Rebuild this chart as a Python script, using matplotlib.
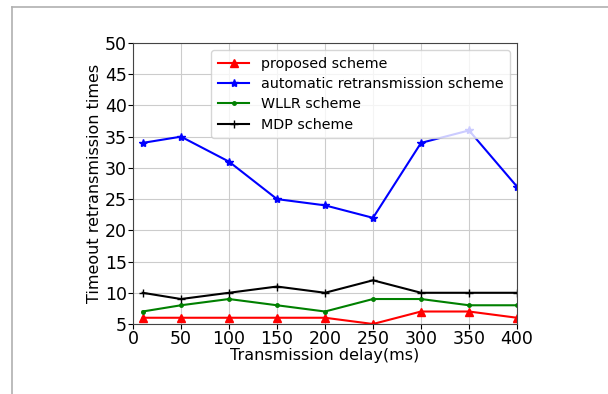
import matplotlib
matplotlib.use("Agg")
import matplotlib.pyplot as plt
from matplotlib.lines import Line2D

# Timeout retransmissions vs. transmission delay for four schemes
delay = [10, 50, 100, 150, 200, 250, 300, 350, 400]
proposed = [6, 6, 6, 6, 6, 5, 7, 7, 6]
auto_retx = [34, 35, 31, 25, 24, 22, 34, 36, 27]
wllr = [7, 8, 9, 8, 7, 9, 9, 8, 8]
mdp = [10, 9, 10, 11, 10, 12, 10, 10, 10]

xticks = [0, 50, 100, 150, 200, 250, 300, 350, 400]
yticks = [5, 10, 15, 20, 25, 30, 35, 40, 45, 50]

fig = plt.figure(figsize=(6.08, 3.94), dpi=100)
ax = fig.add_axes([133 / 608, 1 - 324 / 394, (517 - 133) / 608, (324 - 43) / 394])

ax.plot(delay, proposed, color='red', marker='^', markersize=6, linewidth=1.5, label='proposed scheme')
ax.plot(delay, auto_retx, color='blue', marker='*', markersize=6, linewidth=1.5, label='automatic retransmission scheme')
ax.plot(delay, wllr, color='green', marker='.', markersize=5, linewidth=1.5, label='WLLR scheme')
ax.plot(delay, mdp, color='black', marker='+', markersize=6, linewidth=1.5, label='MDP scheme')

ax.set_xlim(0, 400)
ax.set_ylim(5, 50)
ax.set_xticks(xticks)
ax.set_yticks(yticks)
ax.tick_params(labelsize=12.5, pad=1)
ax.grid(True, color='#cccccc', linewidth=0.8)
ax.set_xlabel('Transmission delay(ms)', fontsize=11.5, labelpad=0)
ax.set_ylabel('Timeout retransmission times', fontsize=11.5, labelpad=2)
for s in ax.spines.values():
    s.set_color('#444444')
ax.legend(loc='upper right', fontsize=10.3, handlelength=2.2, borderpad=0.45, labelspacing=0.45)

# thin page border along the top and left edges
fig.add_artist(Line2D([12 / 608, 12 / 608], [0, 1 - 7 / 394], color='#b0b0b0', linewidth=1.2))
fig.add_artist(Line2D([12 / 608, 1], [1 - 7 / 394, 1 - 7 / 394], color='#b0b0b0', linewidth=1.2))

fig.savefig('out.png', dpi=100)
